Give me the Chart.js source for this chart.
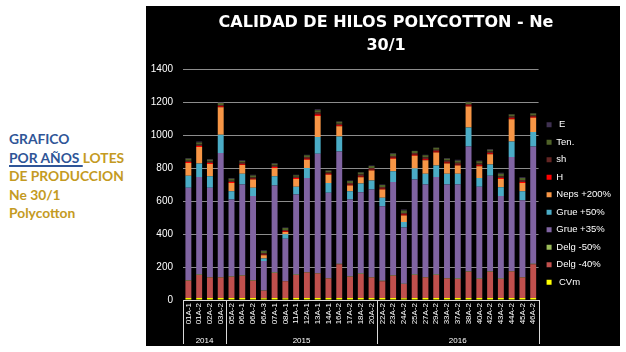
<!DOCTYPE html>
<html>
<head>
<meta charset="utf-8">
<script src="https://cdn.jsdelivr.net/npm/chart.js@4.4.0/dist/chart.umd.min.js"></script>
<style>
  html, body { margin: 0; padding: 0; background: #ffffff; }
  body { width: 626px; height: 352px; position: relative; overflow: hidden; }
  #side {
    position: absolute; left: 9px; top: 130px;
    font-family: Lato, "Open Sans", sans-serif; font-weight: bold;
    font-size: 13.8px; line-height: 18.5px; color: #c49a22;
  }
  #side .blue { color: #2f5597; }
  #side u { text-decoration-thickness: 1.5px; text-underline-offset: 2px; }
  #panel { position: absolute; left: 146px; top: 6px; width: 474px; height: 340px; background: #000; }
</style>
</head>
<body>
<div id="side">
  <div class="blue">GRAFICO</div>
  <div><u class="blue">POR AÑOS </u>LOTES</div>
  <div>DE PRODUCCION</div>
  <div>Ne 30/1</div>
  <div>Polycotton</div>
</div>
<div id="panel"><canvas id="chart" width="474" height="340"></canvas></div>
<script>
// lotes de produccion y años
const lotes = ['01A-1','01A-2','02A-2','03A-2',
  '05A-2','06A-1','06A-2','06A-3','07A-1','08A-1','11A-1','12A-1','13A-1','14A-1','16A-2','17A-2','18A-2','20A-2',
  '22A-2','23A-2','24A-2','25A-2','27A-2','29A-2','33A-2','37A-2','38A-2','40A-2','42A-2','43A-2','44A-2','45A-2','46A-2'];
const years = ['2014', '2015', '2016'];
const yearCounts = [4, 14, 15];

// valores por serie (de abajo hacia arriba en la pila)
const cvm    = [12,12,12,12, 12,12,12,10,12,10,12,12,12,12,12,12,12,12, 12,12,10,12,12,12,12,12,12,12,12,12,12,12,12];
const delg40 = [104,139,125,125, 129,135,104,46,151,103,139,155,149,119,205,129,145,125, 101,135,87,139,125,139,119,115,159,115,159,115,161,125,205];
const delg50 = [3,3,3,3, 3,3,3,2,3,2,3,3,3,3,3,3,3,3, 3,3,2,3,3,3,3,3,3,3,3,3,3,3,3];
const grue35 = [561,592,540,751, 466,550,511,179,528,257,486,570,723,516,681,466,494,530, 453,566,340,576,560,592,566,570,757,556,580,500,691,465,711];
const grue50 = [74,81,70,111, 50,66,50,15,56,26,46,61,101,60,91,50,52,54, 51,64,34,67,66,69,66,66,115,54,67,54,94,55,88];
const neps200 = [77,100,75,166, 50,52,50,19,51,14,48,50,128,50,62,34,38,61, 50,77,40,78,81,80,61,49,127,71,62,50,135,50,86];
const hVals  = [5,6,5,6, 5,5,5,4,5,5,5,6,8,5,6,5,5,5, 5,6,5,6,6,6,6,5,6,6,6,5,6,5,6];
const sh     = [8,10,10,8, 8,10,8,8,10,7,8,10,12,8,8,10,12,10, 10,10,10,10,12,10,12,12,10,10,12,12,10,12,8];
const ten    = [12,12,10,12, 12,10,12,14,10,12,10,10,14,10,12,12,12,12, 12,14,14,12,12,12,12,12,10,14,10,15,12,12,12];
const eVals  = [5,6,5,4, 5,5,5,5,5,3,3,4,7,3,4,3,3,3, 3,4,7,2,4,2,4,7,4,4,4,5,3,5,3];

const yTicksMax = 1400;
const yTicksStep = 200;

// centros y límites de cada año sobre el eje de lotes
const yearBounds = [-0.5];
yearCounts.forEach((c, i) => yearBounds.push(yearBounds[i] + c));
const yearCenters = years.map((_, i) => (yearBounds[i] + yearBounds[i + 1]) / 2);

const series = [
  { label: ' CVm', data: cvm, color: '#ffff00' },
  { label: 'Delg -40%', data: delg40, color: '#c0504d' },
  { label: 'Delg -50%', data: delg50, color: '#9bbb59' },
  { label: 'Grue +35%', data: grue35, color: '#8064a2' },
  { label: 'Grue +50%', data: grue50, color: '#4bacc6' },
  { label: 'Neps +200%', data: neps200, color: '#f79646' },
  { label: 'H', data: hVals, color: '#ff0000' },
  { label: 'sh', data: sh, color: '#632523' },
  { label: 'Ten.', data: ten, color: '#4f6228' },
  { label: ' E', data: eVals, color: '#3f3151' }
];

const separators = {
  id: 'separators',
  afterDraw(chart) {
    const x2 = chart.scales.x2;
    const ctx = chart.ctx;
    ctx.save();
    ctx.strokeStyle = '#d9d9d9';
    ctx.lineWidth = 1;
    yearBounds.forEach(b => {
      const px = Math.round(x2.getPixelForValue(b)) + 0.5;
      ctx.beginPath();
      ctx.moveTo(px, chart.chartArea.bottom);
      ctx.lineTo(px, x2.bottom - 1);
      ctx.stroke();
    });
    ctx.restore();
  }
};

Chart.defaults.font.family = '"Liberation Sans", Arial, sans-serif';
Chart.defaults.color = '#ffffff';

new Chart(document.getElementById('chart').getContext('2d'), {
  type: 'bar',
  data: {
    labels: lotes,
    datasets: series.map(s => ({
      label: s.label,
      data: s.data,
      backgroundColor: s.color,
      borderWidth: 0,
      barPercentage: 0.55,
      categoryPercentage: 1
    }))
  },
  options: {
    responsive: false,
    animation: false,
    layout: { padding: { left: 5, right: -1, top: 0, bottom: 1 } },
    plugins: {
      title: {
        display: true,
        text: ['CALIDAD DE HILOS POLYCOTTON - Ne', '30/1'],
        color: '#ffffff',
        font: { family: '"DejaVu Sans", sans-serif', size: 16, weight: 'bold', lineHeight: 1.44 },
        padding: { top: 5, bottom: 12 }
      },
      legend: {
        position: 'right',
        reverse: true,
        title: { display: true, text: ' ', font: { size: 10, lineHeight: 1.2 }, padding: { top: 44, bottom: 0 } },
        labels: {
          color: '#ffffff',
          font: { size: 9.5 },
          boxWidth: 5,
          boxHeight: 5,
          padding: 8
        }
      },
      tooltip: { enabled: false }
    },
    scales: {
      x: {
        stacked: true,
        grid: { display: false, drawTicks: false },
        border: { display: true, color: '#d9d9d9', width: 1 },
        ticks: { minRotation: 90, maxRotation: 90, autoSkip: false, padding: 3, font: { size: 8 }, color: '#ffffff' },
        afterFit: s => { s.height = 27; }
      },
      x2: {
        type: 'linear',
        position: 'bottom',
        min: -0.5,
        max: lotes.length - 0.5,
        bounds: 'data',
        offset: false,
        grid: { display: false, drawTicks: false },
        border: { display: false },
        afterBuildTicks: axis => { axis.ticks = yearCenters.map(v => ({ value: v })); },
        ticks: {
          padding: 9,
          font: { size: 8 },
          color: '#ffffff',
          callback: v => years[yearCenters.indexOf(v)] || ''
        },
        afterFit: s => { s.height = 18; }
      },
      y: {
        stacked: true,
        min: 0,
        max: yTicksMax,
        ticks: { stepSize: yTicksStep, padding: 10, font: { size: 10 }, color: '#ffffff', callback: v => String(v) },
        grid: { color: '#8c8c8c', lineWidth: 1, drawTicks: false },
        border: { display: false },
        afterFit: s => { s.width = 32; }
      }
    }
  },
  plugins: [separators]
});
</script>
</body>
</html>
